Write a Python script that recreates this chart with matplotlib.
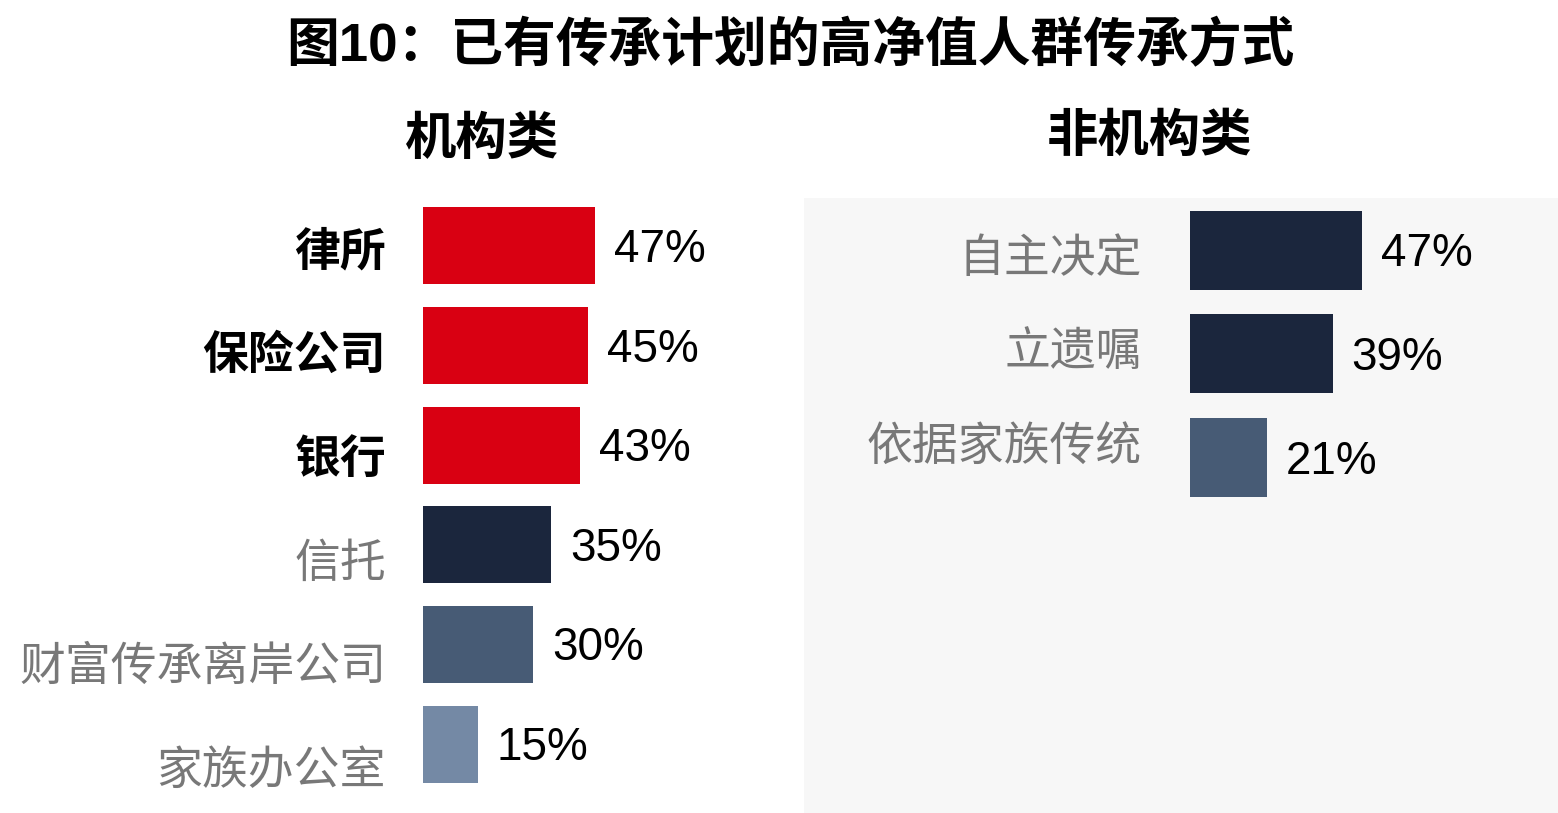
import matplotlib
matplotlib.use("Agg")
import matplotlib.pyplot as plt

CJK = ["Noto Sans CJK SC", "DejaVu Sans"]
NUM = ["Liberation Sans", "Noto Sans CJK SC"]

# data
inst_labels = ["律所", "保险公司", "银行", "信托", "财富传承离岸公司", "家族办公室"]
inst_values = [47, 45, 43, 35, 30, 15]
inst_colors = ["#d90012", "#d90012", "#d90012", "#1b263d", "#475b75", "#7489a5"]
inst_bold = [True, True, True, False, False, False]

non_labels = ["自主决定", "立遗嘱", "依据家族传统"]
non_values = [47, 39, 21]
non_colors = ["#1b263d", "#1b263d", "#475b75"]

W, H = 1558, 813
fig = plt.figure(figsize=(W / 100, H / 100), dpi=100)
fig.patch.set_facecolor("white")

PX = 3.66  # pixels per percent


def panel(rect_px, bar_x0, pitch, first_c, height_px, labels, values, colors, bold,
          lab_gap, lab_off, lab_pitch, bg):
    x0, y0, x1, y1 = rect_px
    ax = fig.add_axes([x0 / W, 1 - y1 / H, (x1 - x0) / W, (y1 - y0) / H])
    ax.set_facecolor(bg)
    ax.set_xlim(-(bar_x0 - x0) / PX, (x1 - bar_x0) / PX)
    ax.set_ylim((y1 - first_c) / pitch, (y0 - first_c) / pitch)
    ys = list(range(len(values)))
    ax.barh(ys, values, height=height_px / pitch, color=colors, left=0)
    for i, (lab, v) in enumerate(zip(labels, values)):
        b = bold[i]
        ax.text(-lab_gap / PX, lab_off + i * lab_pitch, lab, ha="right", va="center",
                fontsize=33, family=CJK, fontweight="bold" if b else "normal",
                color="black" if b else "#787878")
        ax.text(v + 19 / PX, i + 4 / pitch, f"{v}%", ha="left", va="center",
                fontsize=33, family=NUM, color="black")
    ax.set_xticks([])
    ax.set_yticks([])
    for s in ax.spines.values():
        s.set_visible(False)
    return ax


panel((0, 198, 804, 813), 423, 99.6, 246, 77, inst_labels, inst_values, inst_colors,
      inst_bold, 37, 0.06, 1.042, "white")
panel((804, 198, 1558, 813), 1190, 103.5, 250.5, 79, non_labels, non_values, non_colors,
      [False] * 3, 48, 0.075, 0.908, "#f7f7f7")

fig.text(790 / W, 1 - 47 / H, "图10：已有传承计划的高净值人群传承方式", ha="center", va="center",
         fontsize=38, fontweight="bold", family=NUM)
fig.text(482 / W, 1 - 138 / H, "机构类", ha="center", va="center",
         fontsize=37, fontweight="bold", family=CJK)
fig.text(1149 / W, 1 - 135 / H, "非机构类", ha="center", va="center",
         fontsize=37, fontweight="bold", family=CJK)

fig.savefig("out.png", dpi=100)
